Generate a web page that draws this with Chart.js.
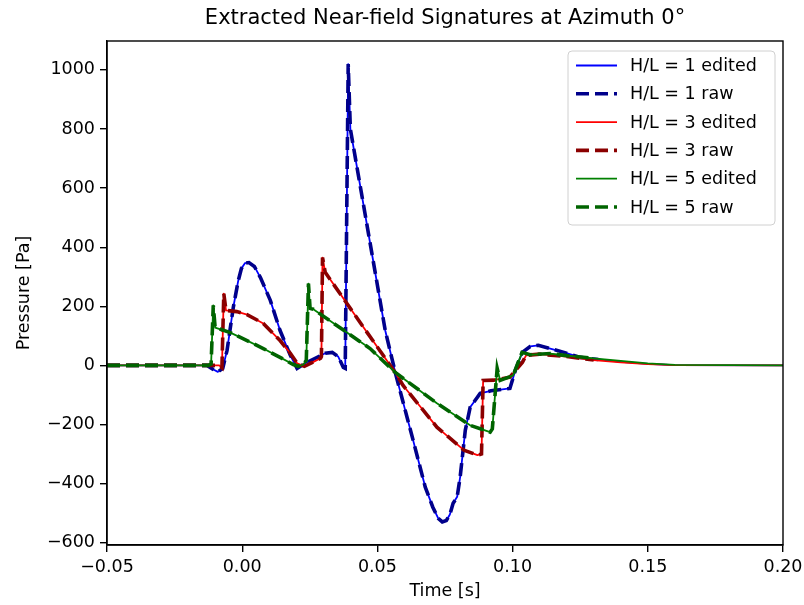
<!DOCTYPE html>
<html>
<head>
<meta charset="utf-8">
<script src="https://cdn.jsdelivr.net/npm/chart.js@4/dist/chart.umd.min.js"></script>
<style>
  body { margin: 0; background: #fff; }
  #wrap { width: 804px; height: 605px; }
</style>
</head>
<body>
<div id="wrap"><canvas id="sig" width="804" height="605"></canvas></div>
<script>
// time [s] and pressure [Pa], one pair per H/L
const timeHL1 = [-0.05, -0.013, -0.011, -0.009, -0.0072, -0.0056, -0.0033, -0.0015, -0.0003, 0.0010, 0.0025, 0.0045, 0.0067, 0.0104, 0.014, 0.0178, 0.0203, 0.0233, 0.027, 0.0307, 0.0333, 0.0355, 0.0374, 0.0381, 0.0392, 0.0400, 0.0529, 0.0566, 0.0632, 0.0677, 0.0705, 0.0725, 0.0740, 0.0755, 0.0768, 0.0780, 0.0795, 0.0806, 0.0825, 0.0843, 0.0880, 0.0920, 0.0990, 0.1010, 0.1036, 0.1065, 0.1095, 0.1190, 0.1250, 0.1317, 0.1400, 0.1500, 0.1600, 0.2000];
const presHL1 = [0, 0, -12, -22, -10, 51, 196, 285, 328, 346, 348, 335, 298, 220, 118, 34, -10, 7, 24, 41, 44, 30, -7, -10, 1020, 800, 118, -24, -253, -412, -480, -518, -530, -525, -505, -467, -445, -378, -220, -142, -95, -86, -78, -17, 44, 64, 68, 44, 27, 20, 12, 5, 1, 0];

const timeHL3 = [-0.05, -0.0085, -0.0075, -0.0068, -0.0060, -0.0020, 0.0018, 0.0078, 0.014, 0.0178, 0.0203, 0.0230, 0.026, 0.029, 0.0293, 0.0297, 0.0307, 0.044, 0.0566, 0.0595, 0.065, 0.072, 0.082, 0.087, 0.0885, 0.0891, 0.093, 0.099, 0.1036, 0.105, 0.110, 0.120, 0.130, 0.140, 0.150, 0.160, 0.200];
const presHL3 = [0, 0, -8, 243, 186, 182, 172, 142, 84, 41, 7, -3, 10, 24, 30, 365, 315, 140, -24, -68, -130, -209, -287, -304, -300, -51, -50, -40, 10, 34, 38, 30, 18, 10, 4, 1, 0];

const timeHL5 = [-0.05, -0.0125, -0.0115, -0.0107, -0.0100, -0.0044, 0.0018, 0.0078, 0.014, 0.0189, 0.0207, 0.0226, 0.0237, 0.0245, 0.0251, 0.0263, 0.0473, 0.0566, 0.072, 0.0843, 0.0917, 0.0925, 0.0943, 0.0954, 0.1002, 0.1035, 0.1065, 0.114, 0.120, 0.130, 0.140, 0.150, 0.160, 0.200];
const presHL5 = [0, 0, 5, 203, 128, 111, 84, 57, 27, 3, -3, 3, 17, 277, 193, 190, 57, -24, -128, -203, -226, -215, -10, -51, -34, 44, 36, 40, 33, 24, 15, 7, 2, 0];

// raw records stop earlier than the edited ones
const rawEnd = 0.132;

const xTicks = [-0.05, 0.00, 0.05, 0.10, 0.15, 0.20];
const yTicks = [-600, -400, -200, 0, 200, 400, 600, 800, 1000];

const labels = ['H/L = 1 edited', 'H/L = 1 raw', 'H/L = 3 edited', 'H/L = 3 raw', 'H/L = 5 edited', 'H/L = 5 raw'];
const colors = ['#0000ff', '#00008b', '#ff0000', '#8b0000', '#008000', '#006400'];

const FONT = 'DejaVu Sans';

function toPoints(ts, ps, cut) {
  const pts = [];
  ts.forEach((t, i) => {
    if (cut === undefined || t <= cut) pts.push({ x: t, y: ps[i] });
  });
  return pts;
}

function minus(s) {
  return String(s).replace('-', '\u2212');
}

function edited(i, pts) {
  return { label: labels[i], data: pts, borderColor: colors[i], borderWidth: 1.8,
           pointRadius: 0, tension: 0, borderJoinStyle: 'round', order: 6 - i };
}
function raw(i, pts) {
  return { label: labels[i], data: pts, borderColor: colors[i], borderWidth: 3.6,
           borderDash: [13, 6], borderCapStyle: 'butt', pointRadius: 0, tension: 0, order: 6 - i };
}

// title, axis titles, frame and the boxed legend, matplotlib-like
const decor = {
  id: 'decor',
  afterDatasetsDraw(chart) {
    const ctx = chart.ctx;
    const a = chart.chartArea;
    ctx.save();
    ctx.strokeStyle = '#000';
    ctx.lineWidth = 1.4;
    ctx.setLineDash([]);
    ctx.strokeRect(a.left, a.top, a.right - a.left, a.bottom - a.top);

    ctx.fillStyle = '#000';
    ctx.textAlign = 'center';
    ctx.textBaseline = 'middle';
    ctx.font = '21px "' + FONT + '"';
    ctx.fillText('Extracted Near-field Signatures at Azimuth 0°', (a.left + a.right) / 2, 19);

    ctx.font = '17.5px "' + FONT + '"';
    ctx.fillText('Time [s]', (a.left + a.right) / 2, 591);
    ctx.save();
    ctx.translate(24, (a.top + a.bottom) / 2);
    ctx.rotate(-Math.PI / 2);
    ctx.fillText('Pressure [Pa]', 0, 0);
    ctx.restore();

    // legend box
    const bx = 568, by = 51, bw = 207, bh = 174, r = 4;
    ctx.beginPath();
    ctx.moveTo(bx + r, by);
    ctx.arcTo(bx + bw, by, bx + bw, by + bh, r);
    ctx.arcTo(bx + bw, by + bh, bx, by + bh, r);
    ctx.arcTo(bx, by + bh, bx, by, r);
    ctx.arcTo(bx, by, bx + bw, by, r);
    ctx.closePath();
    ctx.fillStyle = 'rgba(255,255,255,0.8)';
    ctx.fill();
    ctx.strokeStyle = '#d0d0d0';
    ctx.lineWidth = 1;
    ctx.stroke();

    ctx.textAlign = 'left';
    chart.data.datasets.forEach((ds, i) => {
      const y = 65.5 + i * 28.3;
      ctx.beginPath();
      ctx.strokeStyle = ds.borderColor;
      ctx.lineWidth = ds.borderWidth;
      ctx.setLineDash(ds.borderDash || []);
      ctx.lineCap = 'butt';
      ctx.moveTo(576, y);
      ctx.lineTo(617, y);
      ctx.stroke();
      ctx.setLineDash([]);
      ctx.fillStyle = '#000';
      ctx.fillText(ds.label, 630, y + 1);
    });
    ctx.restore();
  }
};

new Chart(document.getElementById('sig'), {
  type: 'line',
  data: {
    datasets: [
      edited(0, toPoints(timeHL1, presHL1)),
      raw(1, toPoints(timeHL1, presHL1, rawEnd)),
      edited(2, toPoints(timeHL3, presHL3)),
      raw(3, toPoints(timeHL3, presHL3, rawEnd)),
      edited(4, toPoints(timeHL5, presHL5)),
      raw(5, toPoints(timeHL5, presHL5, rawEnd))
    ]
  },
  options: {
    responsive: false,
    animation: false,
    layout: { padding: { top: 41, right: 21, left: 0, bottom: 0 } },
    plugins: {
      legend: { display: false },
      title: { display: false },
      tooltip: { enabled: false }
    },
    scales: {
      x: {
        type: 'linear',
        min: -0.05,
        max: 0.20,
        afterBuildTicks: scale => { scale.ticks = xTicks.map(v => ({ value: v })); },
        afterFit: scale => {
          scale.height = 60;
          scale.paddingLeft = 0;
          scale.paddingRight = 0;
        },
        ticks: {
          color: '#000',
          font: { family: FONT, size: 17.5 },
          padding: 5,
          maxRotation: 0,
          callback: v => minus(v.toFixed(2))
        },
        grid: { drawOnChartArea: false, drawTicks: true, tickLength: 7, color: '#000', lineWidth: 1.4 },
        border: { display: true, color: '#000', width: 1.4 }
      },
      y: {
        type: 'linear',
        min: -608,
        max: 1098,
        afterBuildTicks: scale => { scale.ticks = yTicks.map(v => ({ value: v })); },
        afterFit: scale => {
          scale.width = 107;
          scale.paddingTop = 0;
          scale.paddingBottom = 0;
        },
        ticks: {
          color: '#000',
          font: { family: FONT, size: 17.5 },
          padding: 5,
          callback: v => minus(v)
        },
        grid: { drawOnChartArea: false, drawTicks: true, tickLength: 7, color: '#000', lineWidth: 1.4 },
        border: { display: true, color: '#000', width: 1.4 }
      }
    }
  },
  plugins: [decor]
});
</script>
</body>
</html>
